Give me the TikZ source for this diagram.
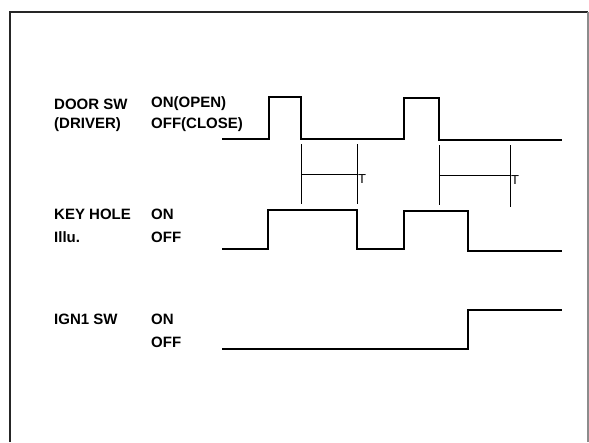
\documentclass[tikz,border=0pt]{standalone}
\usepackage{fontspec}
\setmainfont{Liberation Sans}
\usepackage{tikz}
\usetikzlibrary{positioning, calc}

\tikzset{
    lbl/.style={anchor=west, inner sep=0pt, font=\fontsize{15}{18}\selectfont\bfseries},
    wave/.style={line width=2.4pt, line join=miter},
    tick/.style={line width=0.9pt},
    tlbl/.style={anchor=north west, inner sep=0pt, font=\fontsize{13}{13}\selectfont}
}

\begin{document}
\begin{tikzpicture}[x=1pt, y=-1pt]
    \useasboundingbox (0,0) rectangle (589,442);

    % Frame
    \draw[line width=2pt, black!85] (10,442) -- (10,12) -- (588,12);
    \draw[line width=1.5pt, black!45] (588,12) -- (588,442);

    % Door switch
    \node[lbl] (doorsw) at (54,104) {DOOR SW};
    \node[lbl] (driver) at (54,125) {(DRIVER)};
    \node[lbl] (dooron) at (151,104) {ON(OPEN)};
    \node[lbl] (dooroff) at (151,125) {OFF(CLOSE)};
    \draw[wave] (222,139) -- (269,139) -- (269,97) -- (301,97) -- (301,139)
        -- (404,139) -- (404,98) -- (439,98) -- (439,140) -- (562,140);

    % Timer marks
    \coordinate (t1a) at (301,174);
    \coordinate (t1b) at (357,174);
    \coordinate (t2a) at (439,175);
    \coordinate (t2b) at (510,175);
    \draw[tick] (301,144) -- (301,204);
    \draw[tick] (357,144) -- (357,204);
    \draw[tick] (439,145) -- (439,205);
    \draw[tick] (510,145) -- (510,207);
    \draw[tick] (t1a) -- (t1b);
    \draw[tick] (t2a) -- (t2b);
    \node[tlbl] (tone) at ($(t1b)+(1,0)$) {T};
    \node[tlbl] (ttwo) at ($(t2b)+(1,0)$) {T};

    % Key hole illumination
    \node[lbl] (keyhole) at (54,214) {KEY HOLE};
    \node[lbl] (illu) at (54,237) {Illu.};
    \node[lbl] (keyon) at (151,214) {ON};
    \node[lbl] (keyoff) at (151,237) {OFF};
    \draw[wave] (222,249) -- (268,249) -- (268,210) -- (357,210) -- (357,249)
        -- (404,249) -- (404,211) -- (468,211) -- (468,251) -- (562,251);

    % Ignition switch
    \node[lbl] (ignsw) at (54,319) {IGN1 SW};
    \node[lbl] (ignon) at (151,319) {ON};
    \node[lbl] (ignoff) at (151,342) {OFF};
    \draw[wave] (222,349) -- (468,349) -- (468,310) -- (562,310);
\end{tikzpicture}
\end{document}
